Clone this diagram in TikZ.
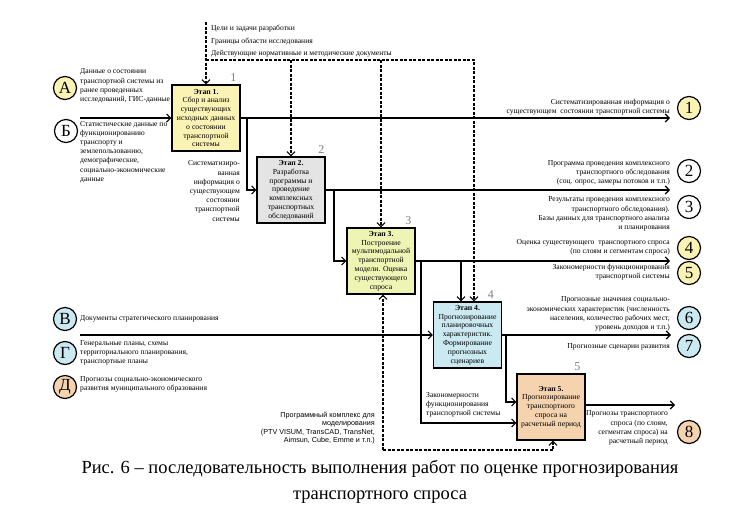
\documentclass[tikz,border=0pt]{standalone}
\usepackage{fontspec}
\setmainfont{Liberation Serif}
\setsansfont{Liberation Sans}
\usepackage{xcolor}
\usetikzlibrary{positioning,arrows.meta}

\definecolor{cyel}{HTML}{FBF3B4}
\definecolor{cgry}{HTML}{E4E4E4}
\definecolor{clim}{HTML}{EEF4B4}
\definecolor{cblu}{HTML}{CBE9F1}
\definecolor{cpch}{HTML}{F5D3AE}

\begin{document}
\begin{tikzpicture}[x=1pt, y=-1pt,
    stage/.style={draw, line width=1.3pt, minimum width=68pt, minimum height=66pt,
        inner sep=1pt, align=center, font=\fontsize{7.7}{8.8}\selectfont},
    tag/.style={circle, draw, line width=1.2pt, minimum size=23pt, inner sep=0pt,
        font=\fontsize{17}{17}\selectfont},
    note/.style={inner sep=0pt, font=\fontsize{7.6}{9.2}\selectfont},
    num/.style={text=gray, font=\fontsize{12}{12}\selectfont, inner sep=0pt},
    flow/.style={-{Straight Barb[length=4pt, width=8pt]}, line width=1.1pt},
    ctrl/.style={flow, dash pattern=on 3pt off 1.5pt}]
    \useasboundingbox (0,0) rectangle (743,531);

    % Stages
    \node[stage, fill=cyel] (s1) at (206,118) {\textbf{Этап 1.}\\Сбор и анализ\\существующих\\исходных данных\\о состоянии\\транспортной\\системы};
    \node[stage, fill=cgry] (s2) at (291,190) {\textbf{Этап 2.}\\Разработка\\программы и\\проведение\\комплексных\\транспортных\\обследований};
    \node[stage, fill=clim] (s3) at (381,261) {\textbf{Этап 3.}\\Построение\\мультимодальной\\транспортной\\модели. Оценка\\существующего\\спроса};
    \node[stage, fill=cblu] (s4) at (467.5,335) {\textbf{Этап 4.}\\Прогнозирование\\планировочных\\характеристик.\\Формирование\\прогнозных\\сценариев};
    \node[stage, fill=cpch] (s5) at (551,407) {\textbf{Этап 5.}\\Прогнозирование\\транспортного\\спроса на\\расчетный период};

    \node[num, above left=3pt and 4pt of s1.north east] (n1) {1};
    \node[num, above left=3pt and 1pt of s2.north east] (n2) {2};
    \node[num, above left=3pt and 4pt of s3.north east] (n3) {3};
    \node[num, above left=3pt and 8pt of s4.north east] (n4) {4};
    \node[num, above left=3pt and 5pt of s5.north east] (n5) {5};

    % Sources
    \node[tag, fill=cyel] (A) at (65,88) {А};
    \node[tag, fill=white] (B) at (66,131) {Б};
    \node[tag, fill=cblu] (V) at (65,319) {В};
    \node[tag, fill=cblu] (G) at (65,353) {Г};
    \node[tag, fill=cpch] (D) at (65,387) {Д};
    \node[note, anchor=west, align=left] (tA) at (80,86) {Данные о состоянии\\транспортной системы из\\ранее проведенных\\исследований, ГИС-данные};
    \node[note, anchor=west, align=left] (tB) at (80,152) {Статистические данные по\\функционированию\\транспорту и\\землепользованию,\\демографические,\\социально-экономические\\данные};
    \node[note, anchor=west, align=left] (tV) at (80,319) {Документы стратегического планирования};
    \node[note, anchor=west, align=left] (tG) at (80,353) {Генеральные планы, схемы\\территориального планирования,\\транспортные планы};
    \node[note, anchor=west, align=left] (tD) at (80,384) {Прогнозы социально-экономического\\развития муниципального образования};

    % Results
    \node[tag, fill=cyel] (r1) at (689,108) {1};
    \node[tag, fill=white] (r2) at (689,171) {2};
    \node[tag, fill=white] (r3) at (689,207) {3};
    \node[tag, fill=cyel] (r4) at (689,248) {4};
    \node[tag, fill=cyel] (r5) at (689,273) {5};
    \node[tag, fill=cblu] (r6) at (689,318) {6};
    \node[tag, fill=cblu] (r7) at (689,346) {7};
    \node[tag, fill=cpch] (r8) at (689,432) {8};
    \node[note, anchor=east, align=right] (t1) at (670,107) {Систематизированная информация о\\существующем \ состоянии транспортной системы};
    \node[note, anchor=east, align=right] (t2) at (670,173) {Программа проведения комплексного\\транспортного обследования\\(соц. опрос, замеры потоков и т.п.)};
    \node[note, anchor=east, align=right] (t3) at (670,214) {Результаты проведения комплексного\\транспортного обследования).\\Базы данных для транспортного анализа\\и планирования};
    \node[note, anchor=east, align=right] (t4) at (670,247) {Оценка существующего \ транспортного спроса\\(по слоям и сегментам спроса)};
    \node[note, anchor=east, align=right] (t5) at (670,272) {Закономерности функционирования\\транспортной системы};
    \node[note, anchor=east, align=right] (t6) at (670,314) {Прогнозные значения социально-\\экономических характеристик (численность\\населения, количество рабочих мест,\\уровень доходов и т.п.)};
    \node[note, anchor=east, align=right] (t7) at (670,347) {Прогнозные сценарии развития};
    \node[note, anchor=east, align=right] (t8) at (668,428) {Прогнозы транспортного\\спроса (по слоям,\\сегментам спроса) на\\расчетный период};

    % Side notes
    \node[note, anchor=east, align=right] (t12) at (240,191) {Систематизиро-\\ванная\\информация о\\существующем\\состоянии\\транспортной\\системы};
    \node[note, anchor=west, align=left] (t35) at (426,405) {Закономерности\\функционирования\\транспортной системы};
    \node[note, anchor=west, align=left] (c1) at (211,29) {Цели и задачи разработки};
    \node[note, anchor=west, align=left] (c2) at (211,42) {Границы области исследования};
    \node[note, anchor=west, align=left] (c3) at (211,54) {Действующие нормативные и методические документы};
    \node[inner sep=0pt, anchor=east, align=right, font=\sffamily\fontsize{7.2}{8.4}\selectfont] (mech) at (375,428) {Программный комплекс для\\моделирования\\(PTV VISUM, TransCAD, TransNet,\\Aimsun, Cube, Emme и т.п.)};

    \node[align=center, font=\fontsize{18.5}{26}\selectfont] (cap) at (380,482) {Рис. 6 -- последовательность выполнения работ по оценке прогнозирования\\транспортного спроса};

    % Points on the lines
    \coordinate (inA) at (80,118);
    \coordinate (inV) at (80,335);
    \coordinate (o1) at (670,118);
    \coordinate (o2) at (670,190);
    \coordinate (o3) at (670,261);
    \coordinate (o4) at (671,335);
    \coordinate (o5) at (675,405);
    \coordinate (j12) at (247,118);
    \coordinate (j23) at (334,190);
    \coordinate (j34) at (461,261);
    \coordinate (j35) at (421,261);
    \coordinate (j45) at (506,335);
    \coordinate (ctop) at (206,22);
    \coordinate (cbus) at (206,60);
    \coordinate (mbus) at (383,450);

    % Flows
    \draw[flow] (inA) -- (s1.west);
    \draw[flow] (s1.east) -- (o1);
    \draw[flow] (j12) |- (s2.west);
    \draw[flow] (s2.east) -- (o2);
    \draw[flow] (j23) |- (s3.west);
    \draw[flow] (s3.east) -- (o3);
    \draw[flow] (j34) -- (j34 |- s4.north);
    \draw[flow] (j35) |- ([yshift=-16pt]s5.west);
    \draw[flow] (inV) -- (s4.west);
    \draw[flow] (s4.east) -- (o4);
    \draw[flow] (j45) |- ([yshift=5pt]s5.west);
    \draw[flow] ([yshift=2pt]s5.east) -- (o5);

    % Controls and tools
    \draw[ctrl] (ctop) -- (s1.north);
    \draw[ctrl] (cbus) -| ([xshift=6.5pt]s4.north);
    \draw[ctrl] (cbus -| s2.north) -- (s2.north);
    \draw[ctrl] (cbus -| s3.north) -- (s3.north);
    \draw[ctrl] (mbus) -- (mbus |- s3.south);
    \draw[ctrl] (mbus) -| ([xshift=2pt]s5.south);
\end{tikzpicture}
\end{document}
